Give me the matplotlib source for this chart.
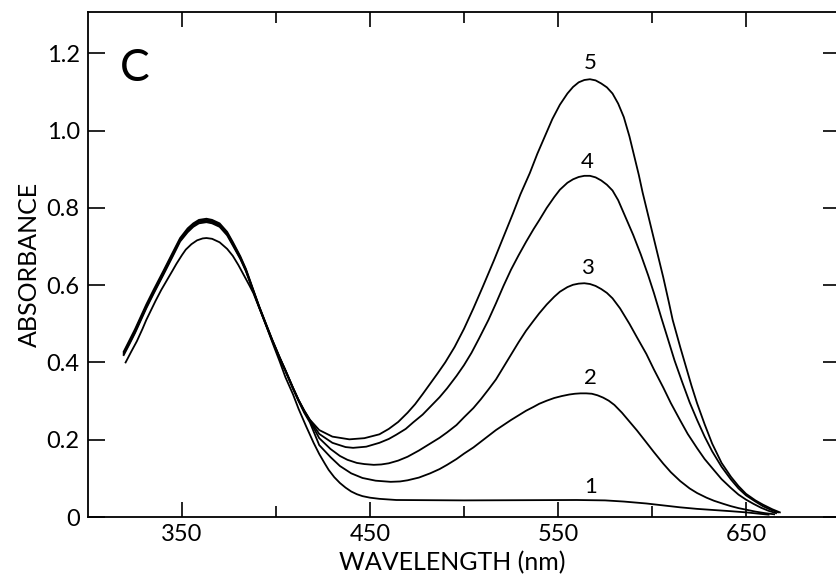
import matplotlib
matplotlib.use("Agg")
import matplotlib.pyplot as plt
from matplotlib.ticker import FixedLocator

plt.rcParams['font.family'] = ['Lato', 'DejaVu Sans']

# ---- data ----
wl_band = [319, 322, 325, 328, 331, 335, 340, 345, 349, 353, 356, 359, 363, 366, 370, 374, 377,
           381, 384, 388, 391, 395, 398, 402, 405, 409, 412, 415, 418]
c5_band = [0.428, 0.457, 0.486, 0.518, 0.550, 0.589, 0.636, 0.684, 0.722, 0.747, 0.760, 0.769, 0.772, 0.769, 0.760, 0.738, 0.712,
           0.675, 0.642, 0.587, 0.546, 0.496, 0.459, 0.413, 0.380, 0.335, 0.303, 0.276, 0.252]
c4_band = [0.425, 0.453, 0.482, 0.514, 0.546, 0.585, 0.632, 0.680, 0.719, 0.743, 0.757, 0.766, 0.769, 0.766, 0.757, 0.735, 0.709,
           0.672, 0.640, 0.585, 0.545, 0.495, 0.458, 0.412, 0.380, 0.335, 0.303, 0.275, 0.251]
c3_band = [0.422, 0.450, 0.479, 0.511, 0.543, 0.582, 0.629, 0.677, 0.716, 0.740, 0.754, 0.763, 0.766, 0.763, 0.754, 0.732, 0.706,
           0.670, 0.638, 0.584, 0.544, 0.494, 0.457, 0.411, 0.379, 0.334, 0.302, 0.273, 0.249]
c2_band = [0.419, 0.447, 0.476, 0.508, 0.540, 0.579, 0.626, 0.674, 0.713, 0.737, 0.751, 0.760, 0.763, 0.760, 0.751, 0.729, 0.703,
           0.668, 0.636, 0.583, 0.543, 0.493, 0.456, 0.410, 0.378, 0.332, 0.300, 0.270, 0.245]

wl5 = [423, 430, 439, 447, 455, 460, 465, 470, 474, 478, 482, 486, 490, 495, 500, 505, 510, 516, 521, 526,
       530, 535, 539, 543, 547, 551, 555, 558, 561, 564, 567, 570, 573, 576, 579, 582, 585, 588, 590, 593,
       595, 598, 601, 604, 606, 609, 611, 615, 618, 621, 624, 628, 632, 637, 642, 646, 650, 655, 659, 664, 668]
a5 = [0.225, 0.208, 0.201, 0.204, 0.214, 0.228, 0.246, 0.270, 0.292, 0.318, 0.345, 0.372, 0.400, 0.440, 0.487, 0.540, 0.596, 0.665, 0.725, 0.785,
      0.835, 0.890, 0.940, 0.985, 1.030, 1.067, 1.096, 1.113, 1.125, 1.131, 1.133, 1.130, 1.122, 1.112, 1.096, 1.070, 1.035, 0.985, 0.945, 0.885,
      0.840, 0.780, 0.720, 0.660, 0.620, 0.555, 0.510, 0.440, 0.390, 0.340, 0.294, 0.240, 0.190, 0.140, 0.104, 0.080, 0.060, 0.043, 0.032, 0.020, 0.012]

wl4 = [423, 430, 437, 441, 448, 455, 460, 464, 469, 473, 478, 482, 487, 491, 496, 500, 504, 508, 513, 517,
       521, 525, 529, 533, 537, 540, 544, 548, 551, 555, 558, 561, 564, 567, 570, 573, 576, 579, 582, 586,
       590, 594, 598, 601, 605, 608, 612, 616, 620, 624, 628, 632, 637, 642, 646, 650, 655, 659, 663, 667]
a4 = [0.215, 0.192, 0.181, 0.179, 0.182, 0.192, 0.202, 0.213, 0.228, 0.245, 0.265, 0.285, 0.310, 0.333, 0.365, 0.393, 0.425, 0.462, 0.510, 0.553,
      0.598, 0.640, 0.677, 0.712, 0.745, 0.768, 0.800, 0.828, 0.847, 0.865, 0.874, 0.880, 0.883, 0.883, 0.879, 0.871, 0.860, 0.845, 0.820, 0.775,
      0.730, 0.680, 0.625, 0.580, 0.515, 0.468, 0.405, 0.350, 0.297, 0.251, 0.208, 0.170, 0.130, 0.097, 0.074, 0.056, 0.040, 0.028, 0.019, 0.012]

wl3 = [423, 429, 434, 438, 443, 447, 452, 456, 460, 465, 470, 476, 482, 487, 491, 496, 500, 505, 509, 513,
       517, 521, 525, 529, 533, 537, 540, 544, 548, 551, 555, 558, 561, 564, 567, 570, 573, 576, 579, 583,
       588, 592, 597, 601, 606, 610, 615, 619, 624, 628, 633, 637, 642, 646, 650, 654, 658, 662, 666]
a3 = [0.204, 0.176, 0.158, 0.148, 0.140, 0.137, 0.135, 0.136, 0.139, 0.146, 0.156, 0.172, 0.190, 0.205, 0.219, 0.238, 0.258, 0.282, 0.305, 0.330,
      0.356, 0.388, 0.420, 0.452, 0.482, 0.508, 0.527, 0.550, 0.570, 0.583, 0.595, 0.601, 0.604, 0.605, 0.603, 0.598, 0.590, 0.580, 0.566, 0.540,
      0.500, 0.465, 0.422, 0.382, 0.335, 0.295, 0.250, 0.215, 0.178, 0.150, 0.121, 0.098, 0.075, 0.058, 0.045, 0.034, 0.024, 0.016, 0.010]

wl2 = [423, 429, 434, 440, 446, 453, 461, 466, 470, 476, 482, 487, 491, 496, 500, 505, 509, 513, 517, 521,
       525, 529, 533, 537, 540, 544, 548, 552, 556, 559, 562, 565, 568, 571, 574, 577, 580, 584, 588, 592,
       597, 601, 606, 610, 615, 620, 624, 629, 633, 638, 642, 646, 650, 655, 660, 665]
a2 = [0.186, 0.155, 0.132, 0.113, 0.101, 0.094, 0.091, 0.092, 0.095, 0.102, 0.113, 0.124, 0.135, 0.150, 0.164, 0.180, 0.195, 0.210, 0.225, 0.238,
      0.251, 0.263, 0.275, 0.285, 0.293, 0.301, 0.308, 0.313, 0.317, 0.319, 0.320, 0.320, 0.319, 0.315, 0.309, 0.301, 0.290, 0.270, 0.247, 0.224,
      0.193, 0.168, 0.138, 0.116, 0.093, 0.074, 0.062, 0.050, 0.042, 0.034, 0.028, 0.023, 0.019, 0.014, 0.010, 0.007]

wl1 = [320, 323, 326, 329, 331, 334, 336, 339, 342, 345, 347, 350, 352, 355, 358, 361, 363, 366, 370, 374,
       377, 380, 383, 386, 388, 392, 395, 399, 402, 405, 409, 412, 416, 420, 423, 426, 428, 431, 434, 437,
       440, 443, 446, 450, 455, 464, 500, 560, 575, 585, 597, 606, 615, 624, 633, 642, 650, 656, 662]
a1 = [0.400, 0.428, 0.455, 0.487, 0.510, 0.540, 0.560, 0.588, 0.613, 0.638, 0.655, 0.678, 0.692, 0.706, 0.716, 0.721, 0.722, 0.720, 0.711, 0.694,
      0.676, 0.652, 0.625, 0.598, 0.579, 0.530, 0.492, 0.440, 0.402, 0.362, 0.318, 0.280, 0.235, 0.192, 0.163, 0.138, 0.122, 0.103, 0.088, 0.076,
      0.066, 0.059, 0.054, 0.050, 0.047, 0.044, 0.043, 0.044, 0.043, 0.040, 0.035, 0.030, 0.025, 0.021, 0.018, 0.015, 0.012, 0.009, 0.006]

curve_labels = ['1', '2', '3', '4', '5']
label_wl = [567.5, 567, 565.5, 565.5, 567]
label_y = [0.078, 0.360, 0.644, 0.919, 1.175]

x_major = [350, 450, 550, 650]
x_minor = [400, 500, 600]
y_major = [0, 0.2, 0.4, 0.6, 0.8, 1.0, 1.2]
y_ticklabels = ['0', '0.2', '0.4', '0.6', '0.8', '1.0', '1.2']

# ---- figure ----
fig = plt.figure(figsize=(8.36, 5.82), dpi=100)
ax = fig.add_axes([88 / 836, 65 / 582, 752 / 836, 505 / 582])

lw = 1.3
ax.plot(wl1, a1, color='black', lw=lw, solid_joinstyle='round')
for band, wl, a in [(c2_band, wl2, a2), (c3_band, wl3, a3), (c4_band, wl4, a4), (c5_band, wl5, a5)]:
    ax.plot(wl_band + wl, band + a, color='black', lw=lw, solid_joinstyle='round')

for t, xw, yv in zip(curve_labels, label_wl, label_y):
    ax.text(xw, yv, t, ha='center', va='center', fontsize=16)

ax.text(317, 1.128, 'C', ha='left', va='baseline', fontsize=32)

ax.set_xlim(300, 700)
ax.set_ylim(0, 1.307)

ax.xaxis.set_major_locator(FixedLocator(x_major))
ax.xaxis.set_minor_locator(FixedLocator(x_minor))
ax.yaxis.set_major_locator(FixedLocator(y_major))
ax.set_yticklabels(y_ticklabels)

ax.tick_params(axis='both', which='both', direction='in', top=True, right=True, width=1.2, color='black')
ax.tick_params(axis='x', which='major', length=10.5, labelsize=17, pad=5)
ax.tick_params(axis='x', which='minor', length=8)
ax.tick_params(axis='y', which='major', length=12, labelsize=17, pad=6)

for s in ax.spines.values():
    s.set_linewidth(1.3)

ax.set_xlabel('WAVELENGTH (nm)', fontsize=18, labelpad=0)
ax.set_ylabel('ABSORBANCE', fontsize=18, labelpad=4)
ax.xaxis.set_label_coords(0.485, -0.068)

fig.savefig('out.png', dpi=100)
